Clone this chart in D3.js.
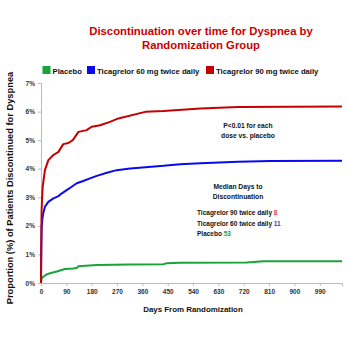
<!DOCTYPE html>
<html><head><meta charset="utf-8">
<script src="https://cdn.jsdelivr.net/npm/d3@7"></script>
<style>body{margin:0;background:#fff;}svg{display:block;font-family:"Liberation Sans",Arial,sans-serif;}</style>
</head><body><svg id="c" width="350" height="350"></svg>
<script>
const xTicks = [0,90,180,270,360,450,540,630,720,810,900,990];
const yTicks = [0,1,2,3,4,5,6,7];
const seriesNames = ["Placebo","Ticagrelor 60 mg twice daily","Ticagrelor 90 mg twice daily"];
const seriesColors = ["#1aa33a","#0a0aee","#c40000"];
const placeboDays = [0,2,8,20,32,56,85,115,128,133,198,317,435,447,494,731,790,1069];
const placeboVals = [0,0.15,0.22,0.3,0.34,0.4,0.49,0.51,0.53,0.59,0.63,0.65,0.66,0.69,0.71,0.72,0.76,0.76];
const t60Days = [0,1,2.5,5,8,14,26,44,62,73,91,109,127,150,174,198,234,269,317,435,494,566,700,815,1069];
const t60Vals = [0,1.2,1.97,2.25,2.44,2.67,2.84,2.96,3.04,3.13,3.25,3.37,3.49,3.57,3.66,3.75,3.86,3.95,4.01,4.1,4.16,4.19,4.24,4.27,4.28];
const t90Days = [0,1,2,4,6,14,26,44,62,79,97,113,133,162,180,210,245,275,370,435,566,700,1069];
const t90Vals = [0,1.5,2.5,3.0,3.37,3.95,4.3,4.48,4.59,4.86,4.9,5.0,5.29,5.35,5.47,5.52,5.64,5.76,5.99,6.02,6.11,6.16,6.18];
const medianLabels = ["Ticagrelor 90 twice daily ","Ticagrelor 60 twice daily ","Placebo "];
const medianValues = ["8","11","53"];
const medianColors = ["#e8383c","#3a3ad0","#2a9a3a"];

const svg = d3.select("#c");
const x = d3.scaleLinear().domain([0,1069]).range([41,342]);
const y = d3.scaleLinear().domain([0,7]).range([283,83]);

// title
svg.append("text").attr("x",201).attr("y",35).attr("text-anchor","middle")
  .attr("font-size",11.3).attr("font-weight","bold").attr("fill","#cc0000")
  .text("Discontinuation over time for Dyspnea by");
svg.append("text").attr("x",201).attr("y",48.5).attr("text-anchor","middle")
  .attr("font-size",11.3).attr("font-weight","bold").attr("fill","#cc0000")
  .text("Randomization Group");

// legend
const legX = [42.5,87,206];
const legend = svg.append("g");
seriesNames.forEach((n,i)=>{
  legend.append("rect").attr("x",legX[i]).attr("y",66).attr("width",8).attr("height",8).attr("fill",seriesColors[i]);
  legend.append("text").attr("x",legX[i]+10).attr("y",73.5).attr("font-size",7.7).attr("font-weight","bold").attr("fill","#111").text(n);
});

// axes
const yAxis = d3.axisLeft(y).tickValues(yTicks).tickFormat(d=>d+"%").tickSize(3).tickPadding(3);
const gy = svg.append("g").attr("transform","translate(41,0)").call(yAxis);
const xAxis = d3.axisBottom(x).tickValues(xTicks).tickSize(3).tickPadding(3);
const gx = svg.append("g").attr("transform","translate(0,283)").call(xAxis);
[gx,gy].forEach(g=>{
  g.selectAll("path").attr("stroke","#bbb");
  g.selectAll("line").attr("stroke","#bbb");
  g.selectAll("text").attr("font-size",6.5).attr("font-weight","bold").attr("fill","#333").attr("font-family","Liberation Sans,Arial,sans-serif");
});

// axis titles
svg.append("text").attr("x",193).attr("y",312).attr("text-anchor","middle")
  .attr("font-size",7.9).attr("font-weight","bold").attr("fill","#111").text("Days From Randomization");
svg.append("text").attr("transform","translate(13,188) rotate(-90)").attr("text-anchor","middle")
  .attr("font-size",9.3).attr("font-weight","bold").attr("fill","#111")
  .text("Proportion (%) of Patients Discontinued for Dyspnea");

// lines
const line = d3.line().x(d=>x(d[0])).y(d=>y(d[1]));
const data = [
  placeboDays.map((d,i)=>[d,placeboVals[i]]),
  t60Days.map((d,i)=>[d,t60Vals[i]]),
  t90Days.map((d,i)=>[d,t90Vals[i]])
];
data.forEach((s,i)=>{
  svg.append("path").datum(s).attr("d",line).attr("fill","none")
    .attr("stroke",seriesColors[i]).attr("stroke-width",2).attr("stroke-linejoin","round");
});

// annotations
const ann = svg.append("g").attr("font-weight","bold").attr("fill","#111").attr("font-size",6.7);
ann.append("text").attr("x",248).attr("y",128).attr("text-anchor","middle").text("P<0.01 for each");
ann.append("text").attr("x",248).attr("y",137.5).attr("text-anchor","middle").text("dose vs. placebo");
ann.append("text").attr("x",238).attr("y",189).attr("text-anchor","middle").text("Median Days to");
ann.append("text").attr("x",238).attr("y",198.5).attr("text-anchor","middle").text("Discontinuation");
medianLabels.forEach((l,i)=>{
  const t = ann.append("text").attr("x",197).attr("y",215+i*10.5).attr("font-size",6.5);
  t.append("tspan").text(l);
  t.append("tspan").attr("fill",medianColors[i]).text(medianValues[i]);
});
</script></body></html>
